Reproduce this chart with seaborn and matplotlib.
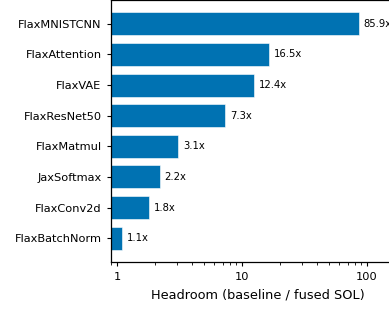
import matplotlib
matplotlib.use("Agg")
import matplotlib.pyplot as plt
from matplotlib.ticker import FuncFormatter, NullFormatter
import seaborn as sns

sns.set_style("ticks")
plt.rcParams['font.family'] = ['DejaVu Sans']
plt.rcParams['text.color'] = 'black'
plt.rcParams['axes.labelcolor'] = 'black'
plt.rcParams['xtick.color'] = 'black'
plt.rcParams['ytick.color'] = 'black'
plt.rcParams['axes.edgecolor'] = 'black'

# %% Data
benchmarks = ["FlaxMNISTCNN", "FlaxAttention", "FlaxVAE", "FlaxResNet50",
              "FlaxMatmul", "JaxSoftmax", "FlaxConv2d", "FlaxBatchNorm"]
headroom = [85.9, 16.5, 12.4, 7.3, 3.1, 2.2, 1.8, 1.1]
value_labels = ["85.9x", "16.5x", "12.4x", "7.3x", "3.1x", "2.2x", "1.8x", "1.1x"]

# %% Plot
fig = plt.figure(figsize=(3.89, 3.09), dpi=100)
ax = fig.add_axes([0.2861, 0.152, 0.754, 0.848])
ax.set_xscale('log')

sns.barplot(x=headroom, y=benchmarks, color="#0072B2", saturation=1,
            width=0.75, edgecolor="white", linewidth=0.4, orient="h", ax=ax)

for i, (v, lab) in enumerate(zip(headroom, value_labels)):
    ax.annotate(lab, (v, i), xytext=(3.5, 0), textcoords="offset points",
                ha="left", va="center", fontsize=7.2, color="black")

ax.set_xlim(0.9, 200)
ax.set_ylim(7.78, -0.78)
ax.xaxis.set_major_formatter(FuncFormatter(lambda x, p: f"{x:g}"))
ax.xaxis.set_minor_formatter(NullFormatter())
ax.set_xlabel("Headroom (baseline / fused SOL)", fontsize=9.3, labelpad=4.5)
ax.set_ylabel("")
ax.tick_params(axis="both", labelsize=8.2, length=3, width=0.8)
ax.tick_params(axis="x", pad=4.5)
ax.tick_params(axis="y", pad=4)
ax.tick_params(axis="x", which="minor", length=2, width=0.6)
for s in ax.spines.values():
    s.set_linewidth(0.9)
    s.set_visible(True)

fig.savefig("out.png", dpi=100)
